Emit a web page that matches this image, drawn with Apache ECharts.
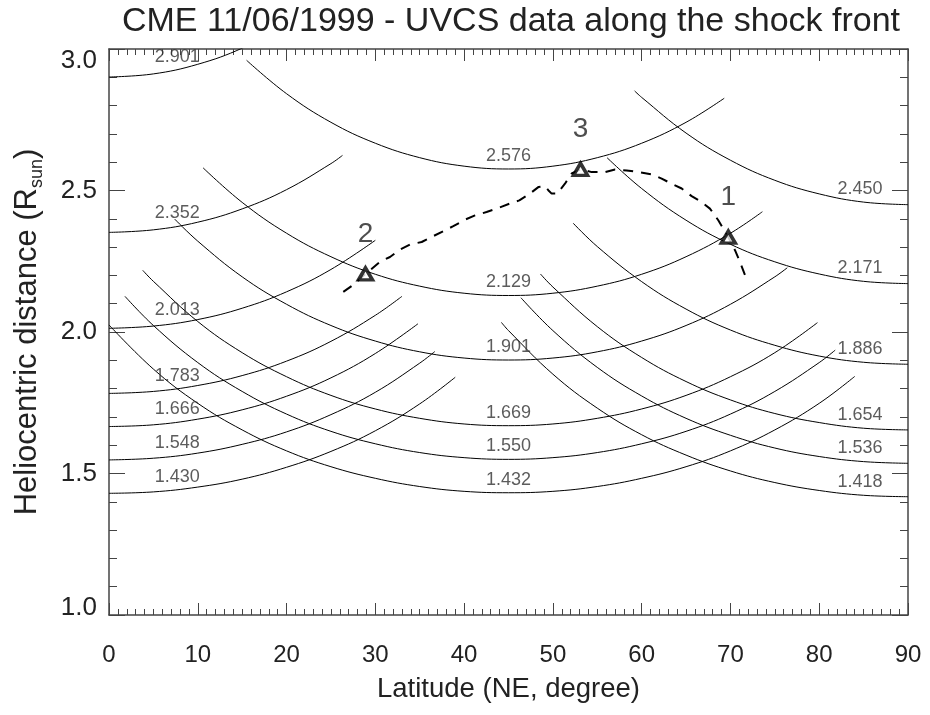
<!DOCTYPE html>
<html><head><meta charset="utf-8">
<script src="https://cdn.jsdelivr.net/npm/echarts@6/dist/echarts.min.js"></script>
<style>html,body{margin:0;padding:0;background:#fff}#c{width:930px;height:715px}</style>
</head><body><div id="c"></div>
<script>
// ---- data (latitude [deg], heliocentric distance [Rsun]) ----
const titleText = 'CME 11/06/1999 - UVCS data along the shock front';
const xTickValues = [0,10,20,30,40,50,60,70,80,90];
const yTickValues = [1.0,1.5,2.0,2.5,3.0];

// slit positions centred on the equator (0 deg)
const eq2901 = [[0,2.901],[5,2.912],[10,2.946],[15,3.003],[20,3.087]];
const eq2352 = [[0,2.352],[5,2.361],[10,2.388],[15,2.435],[20,2.503],[25,2.595],[26.3,2.624]];
const eq2013 = [[0,2.013],[5,2.021],[10,2.044],[15,2.084],[20,2.142],[25,2.221],[30,2.324]];
const eq1783 = [[0,1.783],[5,1.790],[10,1.811],[15,1.846],[20,1.897],[25,1.967],[30,2.059],[33,2.126]];
const eq1666 = [[0,1.666],[5,1.672],[10,1.692],[15,1.725],[20,1.773],[25,1.838],[30,1.924],[34.8,2.029]];
const eq1548 = [[0,1.548],[5,1.554],[10,1.572],[15,1.603],[20,1.647],[25,1.708],[30,1.787],[35,1.890],[36.7,1.931]];
const eq1430 = [[0,1.430],[5,1.435],[10,1.452],[15,1.480],[20,1.522],[25,1.578],[30,1.651],[35,1.746],[39,1.840]];

// slit positions centred on 45 deg
const mid2576 = [[15.5,2.960],[20,2.842],[25,2.741],[30,2.667],[35,2.616],[40,2.586],[45,2.576],[50,2.586],[55,2.616],[60,2.667],[65,2.741],[69.3,2.826]];
const mid2129 = [[10.6,2.580],[15,2.458],[20,2.349],[25,2.266],[30,2.204],[35,2.162],[40,2.137],[45,2.129],[50,2.137],[55,2.162],[60,2.204],[65,2.266],[70,2.349],[73.6,2.425]];
const mid1901 = [[7.4,2.399],[10,2.321],[15,2.195],[20,2.098],[25,2.023],[30,1.968],[35,1.930],[40,1.908],[45,1.901],[50,1.908],[55,1.930],[60,1.968],[65,2.023],[70,2.098],[75,2.195],[76.4,2.227]];
const mid1669 = [[3.8,2.218],[5,2.179],[10,2.037],[15,1.927],[20,1.842],[25,1.776],[30,1.728],[35,1.695],[40,1.675],[45,1.669],[50,1.675],[55,1.695],[60,1.728],[65,1.776],[70,1.842],[75,1.927],[79.8,2.033]];
const mid1550 = [[1.8,2.126],[5,2.023],[10,1.892],[15,1.790],[20,1.710],[25,1.649],[30,1.605],[35,1.574],[40,1.556],[45,1.550],[50,1.556],[55,1.574],[60,1.605],[65,1.649],[70,1.710],[75,1.790],[80,1.892],[81.8,1.936]];
const mid1432 = [[0,2.025],[5,1.869],[10,1.748],[15,1.654],[20,1.580],[25,1.524],[30,1.483],[35,1.454],[40,1.437],[45,1.432],[50,1.437],[55,1.454],[60,1.483],[65,1.524],[70,1.580],[75,1.654],[80,1.748],[84,1.843]];

// slit positions centred on the pole (90 deg)
const pole2450 = [[59.2,2.852],[60,2.829],[65,2.703],[70,2.607],[75,2.536],[80,2.488],[85,2.459],[90,2.450]];
const pole2171 = [[56.1,2.616],[60,2.507],[65,2.395],[70,2.310],[75,2.248],[80,2.205],[85,2.179],[90,2.171]];
const pole1886 = [[52.3,2.384],[55,2.302],[60,2.178],[65,2.081],[70,2.007],[75,1.953],[80,1.915],[85,1.893],[90,1.886]];
const pole1654 = [[48.6,2.205],[50,2.159],[55,2.019],[60,1.910],[65,1.825],[70,1.760],[75,1.712],[80,1.680],[85,1.660],[90,1.654]];
const pole1536 = [[46.4,2.121],[50,2.005],[55,1.875],[60,1.774],[65,1.695],[70,1.635],[75,1.590],[80,1.560],[85,1.542],[90,1.536]];
const pole1418 = [[44.2,2.034],[45,2.005],[50,1.851],[55,1.731],[60,1.637],[65,1.565],[70,1.509],[75,1.468],[80,1.440],[85,1.423],[90,1.418]];

// curve labels: [latitude, distance on the curve, text]
const eqLabels = [[7.7,2.927,'2.901'],[7.7,2.373,'2.352'],[7.7,2.031,'2.013'],[7.7,1.799,'1.783'],[7.7,1.681,'1.666'],[7.7,1.562,'1.548'],[7.7,1.443,'1.430']];
const midLabels = [[45,2.576,'2.576'],[45,2.129,'2.129'],[45,1.901,'1.901'],[45,1.669,'1.669'],[45,1.550,'1.550'],[45,1.432,'1.432']];
const poleLabels = [[84.6,2.461,'2.450'],[84.6,2.181,'2.171'],[84.6,1.894,'1.886'],[84.6,1.661,'1.654'],[84.6,1.543,'1.536'],[84.6,1.424,'1.418']];

// shock front track
const shockFront = [[26.39,2.142],[27.45,2.165],[28.89,2.205],[30.52,2.248],[31.65,2.265],[32.78,2.291],[33.9,2.309],[35.22,2.318],[36.35,2.336],[37.65,2.356],[38.78,2.374],[40.1,2.397],[41.23,2.412],[42.53,2.424],[43.67,2.436],[45.17,2.454],[46.22,2.465],[47.42,2.489],[48.36,2.512],[49.1,2.515],[49.48,2.501],[49.86,2.489],[50.5,2.489],[51.36,2.524],[52.12,2.560],[53.11,2.575],[54.37,2.565],[55.87,2.565],[57.0,2.574],[58.31,2.571],[59.62,2.565],[61.13,2.557],[62.25,2.542],[63.38,2.524],[64.51,2.507],[65.63,2.480],[66.76,2.459],[67.69,2.436],[68.63,2.395],[69.76,2.335],[70.51,2.289],[71.07,2.248],[71.64,2.201]];

// UVCS data points along the front
const uvcsPoints = [[69.76,2.335,'1'],[28.89,2.205,'2'],[53.11,2.575,'3']];

// ---- chart ----
const FONT = '"Liberation Sans", Arial, Helvetica, sans-serif';
const TXT = '#222';
const AX = '#444';
const curves = [eq2901,eq2352,eq2013,eq1783,eq1666,eq1548,eq1430,
  mid2576,mid2129,mid1901,mid1669,mid1550,mid1432,
  pole2450,pole2171,pole1886,pole1654,pole1536,pole1418];
const allLabels = eqLabels.concat(midLabels, poleLabels);

function xAxisCfg(pos, showLabels) {
  return {
    type:'value', position:pos, min:0, max:90, interval:10,
    axisLine:{show:true, onZero:false, lineStyle:{color:AX, width:1.5}},
    axisTick:{show:true, inside:true, length:12, lineStyle:{color:AX, width:1}},
    minorTick:{show:true, splitNumber:10, length:6, lineStyle:{color:AX, width:1}},
    splitLine:{show:false}, minorSplitLine:{show:false},
    axisLabel:{show:showLabels, fontSize:24, color:TXT, fontFamily:FONT, margin:28},
    name: showLabels ? 'Latitude (NE, degree)' : '',
    nameLocation:'middle', nameGap:60,
    nameTextStyle:{fontSize:27.5, color:TXT, fontFamily:FONT}
  };
}
function yAxisCfg(pos, showLabels) {
  return {
    type:'value', position:pos, min:1.0, max:3.0, interval:0.5,
    axisLine:{show:true, onZero:false, lineStyle:{color:AX, width:1.5}},
    axisTick:{show:true, inside:true, length:16, lineStyle:{color:AX, width:1}},
    minorTick:{show:true, splitNumber:5, length:8, lineStyle:{color:AX, width:1}},
    splitLine:{show:false}, minorSplitLine:{show:false},
    axisLabel:{show:showLabels, fontSize:26, color:TXT, fontFamily:FONT, margin:12,
      formatter: function(v){
        const s = v.toFixed(1);
        if (v === 3) return '{hi|' + s + '}';
        if (v === 1) return '{lo|' + s + '}';
        return '{n|' + s + '}';
      },
      rich:{
        n:{fontSize:26, color:TXT, fontFamily:FONT},
        hi:{fontSize:26, color:TXT, fontFamily:FONT, padding:[24,0,0,0]},
        lo:{fontSize:26, color:TXT, fontFamily:FONT, padding:[0,0,14,0]}
      }
    },
    name: showLabels ? '{a|Heliocentric distance (R}{s|sun}{a|)}' : '',
    nameLocation:'middle', nameGap:63, nameRotate:90,
    nameTextStyle:{
      rich:{
        a:{fontSize:31, color:TXT, fontFamily:FONT, lineHeight:38},
        s:{fontSize:18, color:TXT, fontFamily:FONT, lineHeight:38, verticalAlign:'bottom'}
      }
    }
  };
}

const series = curves.map(function(d){
  return {type:'line', data:d, smooth:0.4, showSymbol:false, symbol:'none', silent:true,
    clip:true, lineStyle:{color:'#000', width:1}, z:2, animation:false};
});
series.push({
  type:'scatter', data:allLabels.map(function(p){return {value:[p[0],p[1]], label:{formatter:p[2]}};}),
  symbolSize:0, silent:true, animation:false, z:3,
  label:{show:true, position:'top', distance:4, fontSize:18, color:'#333', fontFamily:FONT}
});
series.push({
  type:'line', data:shockFront, showSymbol:false, symbol:'none', smooth:false, silent:true,
  lineStyle:{color:'#000', width:2, type:[10,8]}, z:4, animation:false
});
series.push({
  type:'scatter', data:uvcsPoints.map(function(p){return {value:[p[0],p[1]], label:{formatter:p[2]}};}),
  symbol:'triangle', symbolSize:[14,12], silent:true, animation:false, z:5,
  itemStyle:{color:'#fff', borderColor:'#000', borderWidth:3.5},
  label:{show:true, position:'inside', offset:[0,-40], fontSize:28, color:'#222', fontFamily:FONT}
});

const chart = echarts.init(document.getElementById('c'), null, {renderer:'canvas'});
chart.setOption({
  backgroundColor:'#fff',
  animation:false,
  title:{text:titleText, left:506, top:0, textAlign:'center',
    textStyle:{fontSize:34, fontWeight:'normal', color:TXT, fontFamily:FONT}},
  grid:{left:109, right:22, top:49, bottom:100, containLabel:false},
  xAxis:[xAxisCfg('bottom', true), xAxisCfg('top', false)],
  yAxis:[yAxisCfg('left', true), yAxisCfg('right', false)],
  series:series
});
</script>
</body></html>
